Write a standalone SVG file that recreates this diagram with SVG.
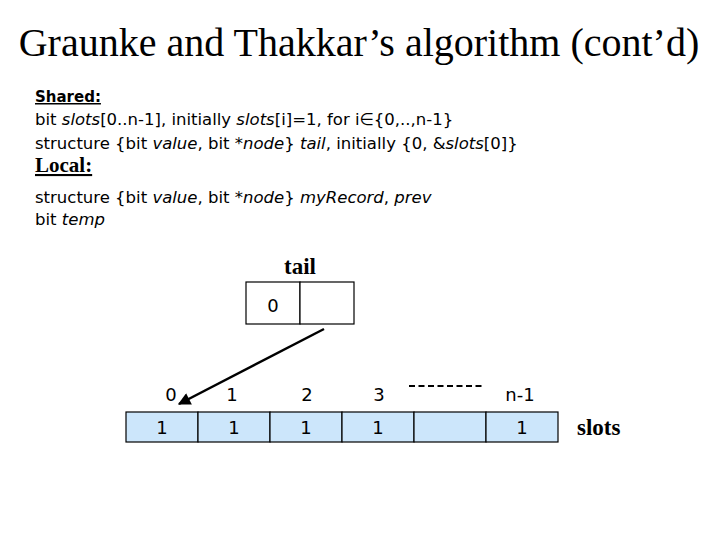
<svg xmlns="http://www.w3.org/2000/svg" width="720" height="540" viewBox="0 0 720 540">
<defs>
<style>
.title{font-family:"Liberation Serif",serif;font-size:40px;fill:#000}
.code{font-family:"DejaVu Sans","Liberation Sans",sans-serif;font-size:16.5px;fill:#000}
.hdr{font-family:"DejaVu Sans","Liberation Sans",sans-serif;font-size:15px;font-weight:bold;text-decoration:underline;fill:#000}
.hdr2{font-family:"Liberation Serif",serif;font-size:21px;font-weight:bold;text-decoration:underline;fill:#000}
.lbl{font-family:"Liberation Serif",serif;font-size:23px;font-weight:bold;fill:#000}
.num{font-family:"DejaVu Sans","Liberation Sans",sans-serif;font-size:18px;fill:#000;text-anchor:middle}
.cell{fill:#cce6fb;stroke:#000;stroke-width:1.2}
.box{fill:#fff;stroke:#000;stroke-width:1.2}
</style>
<marker id="ah" viewBox="0 0 10 10" refX="9" refY="5" markerWidth="5.5" markerHeight="5" orient="auto" markerUnits="strokeWidth">
<path d="M0,0 L10,5 L0,10 z" fill="#000"/>
</marker>
</defs>
<rect width="720" height="540" fill="#fff"/>
<text class="title" x="359" y="56" text-anchor="middle">Graunke and Thakkar’s algorithm (cont’d)</text>
<g id="code">
<text class="hdr" x="35" y="102">Shared:</text>
<text class="code" x="35" y="125">bit <tspan font-style="italic">slots</tspan>[0..n-1], initially <tspan font-style="italic">slots</tspan>[i]=1, for i∈{0,..,n-1}</text>
<text class="code" x="35" y="149">structure {bit <tspan font-style="italic">value</tspan>, bit *<tspan font-style="italic">node</tspan>} <tspan font-style="italic">tail</tspan>, initially {0, &amp;<tspan font-style="italic">slots</tspan>[0]}</text>
<text class="hdr2" x="35" y="172">Local:</text>
<text class="code" x="35" y="203">structure {bit <tspan font-style="italic">value</tspan>, bit *<tspan font-style="italic">node</tspan>} <tspan font-style="italic">myRecord</tspan>, <tspan font-style="italic">prev</tspan></text>
<text class="code" x="35" y="225">bit <tspan font-style="italic">temp</tspan></text>
</g>
<g id="tail">
<text class="lbl" x="300" y="274" text-anchor="middle">tail</text>
<rect class="box" x="246" y="282" width="54" height="42"/>
<rect class="box" x="300" y="282" width="54" height="42"/>
<text class="num" x="273" y="312">0</text>
</g>
<g id="slots">
<text class="num" x="171" y="401">0</text>
<text class="num" x="232" y="401">1</text>
<text class="num" x="307" y="401">2</text>
<text class="num" x="379" y="401">3</text>
<text class="num" x="520" y="401">n-1</text>
<line x1="409" y1="386" x2="485" y2="386" stroke="#000" stroke-width="2" stroke-dasharray="6,3.5"/>
<rect class="cell" x="126" y="412" width="72" height="30"/>
<rect class="cell" x="198" y="412" width="72" height="30"/>
<rect class="cell" x="270" y="412" width="72" height="30"/>
<rect class="cell" x="342" y="412" width="72" height="30"/>
<rect class="cell" x="414" y="412" width="72" height="30"/>
<rect class="cell" x="486" y="412" width="72" height="30"/>
<text class="num" x="162" y="434">1</text>
<text class="num" x="234" y="434">1</text>
<text class="num" x="306" y="434">1</text>
<text class="num" x="378" y="434">1</text>
<text class="num" x="522" y="434">1</text>
<text class="lbl" x="577" y="435">slots</text>
</g>
<g id="connectors">
<line x1="324" y1="329" x2="179" y2="404" stroke="#000" stroke-width="2.5" marker-end="url(#ah)"/>
</g>
</svg>
